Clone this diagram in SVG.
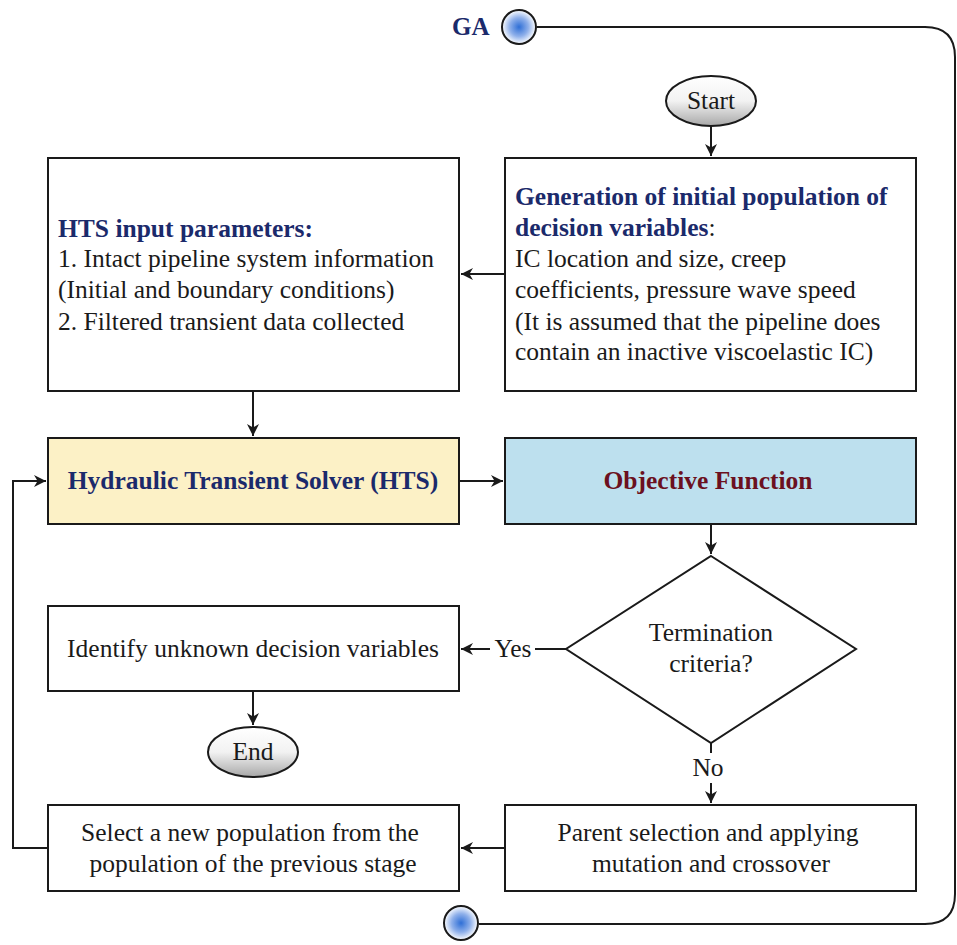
<svg xmlns="http://www.w3.org/2000/svg" width="957" height="945" viewBox="0 0 957 945">
<style>
.box{fill:#fff;stroke:#1a1a1a;stroke-width:2}
.t{font-family:"Liberation Serif","Times New Roman",serif;font-size:25.5px;fill:#1a1a1a}
.b{font-weight:bold;fill:#1b2a6b}
.c{text-anchor:middle}
.ln{fill:none;stroke:#1a1a1a;stroke-width:2}
</style>
<defs>
<marker id="ah" viewBox="0 0 10 10" refX="10" refY="5" markerWidth="14" markerHeight="12" markerUnits="userSpaceOnUse" orient="auto">
<path d="M0,0 L10,5 L0,10 L3,5 Z" fill="#1a1a1a"/>
</marker>
<linearGradient id="eg" x1="0" y1="0" x2="0" y2="1">
<stop offset="0" stop-color="#ffffff"/>
<stop offset="0.5" stop-color="#f2f2f2"/>
<stop offset="1" stop-color="#a8a8a8"/>
</linearGradient>
<radialGradient id="cg">
<stop offset="0" stop-color="#2f6fd6"/>
<stop offset="0.55" stop-color="#8fb0ea"/>
<stop offset="1" stop-color="#ffffff"/>
</radialGradient>
</defs>
<rect width="957" height="945" fill="#fff"/>

<g id="connectors">
<path class="ln" d="M537,27 H925 Q955,27 955,57 V894 Q955,924 925,924 H479"/>
<path class="ln" d="M711,126 V156" marker-end="url(#ah)"/>
<path class="ln" d="M505,274 H461" marker-end="url(#ah)"/>
<path class="ln" d="M253,391 V436" marker-end="url(#ah)"/>
<path class="ln" d="M459,481 H503" marker-end="url(#ah)"/>
<path class="ln" d="M711,524 V554" marker-end="url(#ah)"/>
<path class="ln" d="M566,649 H535"/>
<path class="ln" d="M490,649 H461" marker-end="url(#ah)"/>
<text class="t c" x="513" y="657">Yes</text>
<path class="ln" d="M253,691 V725" marker-end="url(#ah)"/>
<path class="ln" d="M711,743 V753"/>
<text class="t c" x="708" y="776">No</text>
<path class="ln" d="M711,783 V803" marker-end="url(#ah)"/>
<path class="ln" d="M505,848 H461" marker-end="url(#ah)"/>
<path class="ln" d="M48,848 H13 V481 H46" marker-end="url(#ah)"/>
</g>

<g id="ga">
<text class="t b" x="452" y="35" style="font-size:25px">GA</text>
<circle cx="519" cy="27" r="17" fill="url(#cg)" stroke="#1a1a1a" stroke-width="2"/>
</g>
<g id="ga-end">
<circle cx="461" cy="923" r="17" fill="url(#cg)" stroke="#1a1a1a" stroke-width="2"/>
</g>

<g id="start">
<ellipse cx="711" cy="101" rx="45" ry="25" fill="url(#eg)" stroke="#1a1a1a" stroke-width="2"/>
<text class="t c" x="711" y="109">Start</text>
</g>

<g id="hts-input">
<rect class="box" x="48" y="158" width="411" height="233"/>
<text class="t b" x="58" y="237">HTS input parameters:</text>
<text class="t" x="58" y="267">1. Intact pipeline system information</text>
<text class="t" x="58" y="298">(Initial and boundary conditions)</text>
<text class="t" x="58" y="330">2. Filtered transient data collected</text>
</g>

<g id="generation">
<rect class="box" x="505" y="158" width="411" height="233"/>
<text class="t" x="515" y="205"><tspan class="b">Generation of initial population of</tspan></text>
<text class="t" x="515" y="236"><tspan class="b">decision variables</tspan>:</text>
<text class="t" x="515" y="267">IC location and size, creep</text>
<text class="t" x="515" y="298">coefficients, pressure wave speed</text>
<text class="t" x="515" y="330">(It is assumed that the pipeline does</text>
<text class="t" x="515" y="360">contain an inactive viscoelastic IC)</text>
</g>

<g id="hts">
<rect class="box" x="48" y="438" width="411" height="86" style="fill:#fcf1c6"/>
<text class="t b c" x="253" y="489">Hydraulic Transient Solver (HTS)</text>
</g>

<g id="objective">
<rect class="box" x="505" y="438" width="411" height="86" style="fill:#bde0ee"/>
<text class="t b c" x="708" y="489" style="fill:#6b1020">Objective Function</text>
</g>

<g id="termination">
<polygon points="711,556 856,649 711,743 566,649" fill="#fff" stroke="#1a1a1a" stroke-width="2"/>
<text class="t c" x="711" y="641">Termination</text>
<text class="t c" x="711" y="672">criteria?</text>
</g>

<g id="identify">
<rect class="box" x="48" y="606" width="411" height="85"/>
<text class="t c" x="253" y="657">Identify unknown decision variables</text>
</g>

<g id="end">
<ellipse cx="253" cy="752" rx="45" ry="25" fill="url(#eg)" stroke="#1a1a1a" stroke-width="2"/>
<text class="t c" x="253" y="760">End</text>
</g>

<g id="select">
<rect class="box" x="48" y="805" width="411" height="86"/>
<text class="t c" x="250" y="841">Select a new population from the</text>
<text class="t c" x="253" y="872">population of the previous stage</text>
</g>

<g id="parent">
<rect class="box" x="505" y="805" width="411" height="86"/>
<text class="t c" x="708" y="841">Parent selection and applying</text>
<text class="t c" x="711" y="872">mutation and crossover</text>
</g>
</svg>
